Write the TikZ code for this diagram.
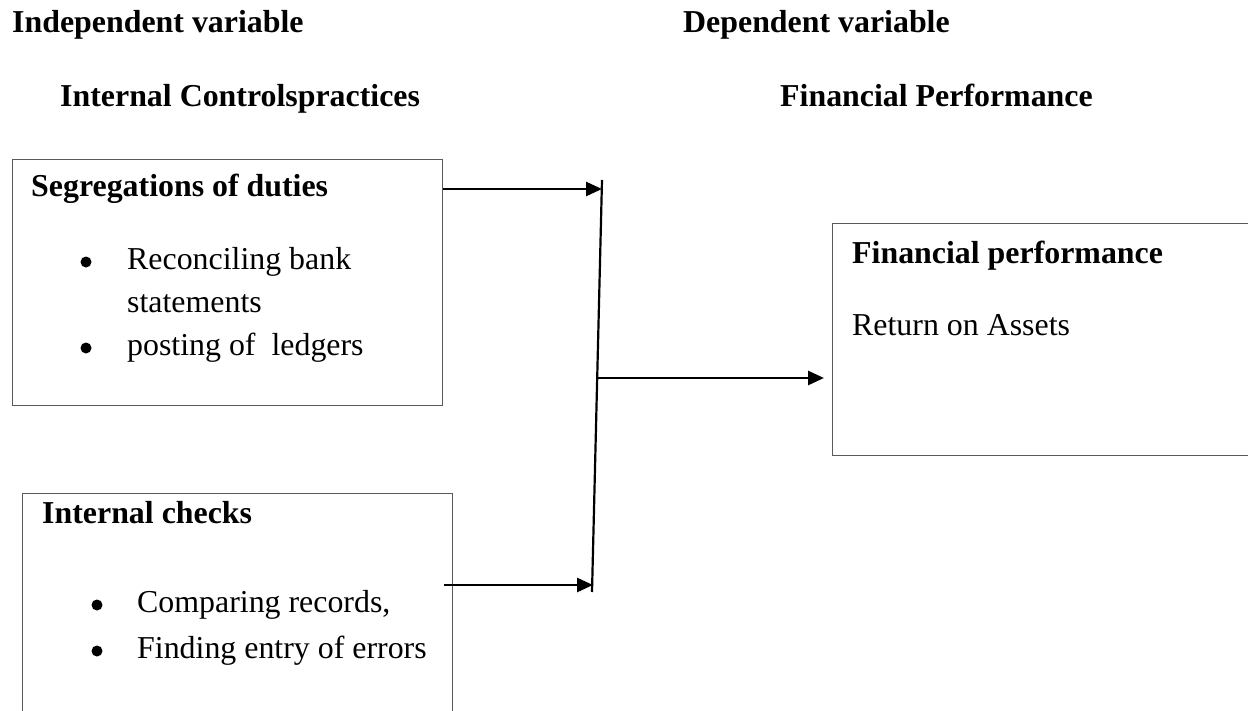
\documentclass[tikz,border=0pt]{standalone}
\usepackage{fontspec}
\setmainfont{Liberation Serif}
\usetikzlibrary{arrows.meta}
\begin{document}
\begin{tikzpicture}[x=1bp,y=-1bp,
  box/.style={draw=black!65, line width=1.3bp, anchor=north west, inner sep=0},
  hd/.style={font=\bfseries\fontsize{32}{38}\selectfont, anchor=base west, inner sep=0},
  tx/.style={font=\fontsize{32}{38}\selectfont, anchor=base west, inner sep=0},
  dot/.style={circle, fill, inner sep=0, minimum size=11bp},
  arr/.style={line width=2.8bp, -{Triangle[length=16bp,width=14bp]}}]
\useasboundingbox (0,0) rectangle (1248,711);
\clip (0,0) rectangle (1248,711);
% headers
\node[hd] (h1) at (12,33) {Independent variable};
\node[hd] (h2) at (683,33) {Dependent variable};
\node[hd] (h3) at (60,107) {Internal Controlspractices};
\node[hd] (h4) at (780,107) {Financial Performance};
% boxes
\node[box, minimum width=430bp, minimum height=246bp] (b1) at (12,159) {};
\node[box, minimum width=430bp, minimum height=240bp] (b2) at (22,493) {};
\node[box, minimum width=430bp, minimum height=232bp] (b3) at (832,223) {};
% box 1 text
\node[hd] (t1) at (31,197) {Segregations of duties};
\node[dot] (d11) at (86,262) {};
\node[tx] (t11) at (127,269) {Reconciling bank};
\node[tx] (t12) at (127,312) {statements};
\node[dot] (d12) at (86,348) {};
\node[tx] (t13) at (127,355) {posting of\ \ ledgers};
% box 2 text
\node[hd] (t2) at (42,523) {Internal checks};
\node[dot] (d21) at (97,605) {};
\node[tx] (t21) at (137,612) {Comparing records,};
\node[dot] (d22) at (97,651) {};
\node[tx] (t22) at (137,658) {Finding entry of errors};
% box 3 text
\node[hd] (t3) at (852,263) {Financial performance};
\node[tx] (t31) at (852,335) {Return on Assets};
% connectors
\coordinate (vt) at (602,180);
\coordinate (vb) at (592,592);
\draw[line width=2.2bp] (vt) -- (vb);
\coordinate (a1e) at (602,189);
\draw[arr] (b1.east |- a1e) -- (a1e);
\coordinate (a2s) at (596,378);
\draw[arr, shorten >=8bp] (a2s) -- (b3.west |- a2s);
\coordinate (a3s) at (444,585);
\coordinate (a3e) at (593,585);
\draw[arr] (a3s) -- (a3e);
\end{tikzpicture}
\end{document}
